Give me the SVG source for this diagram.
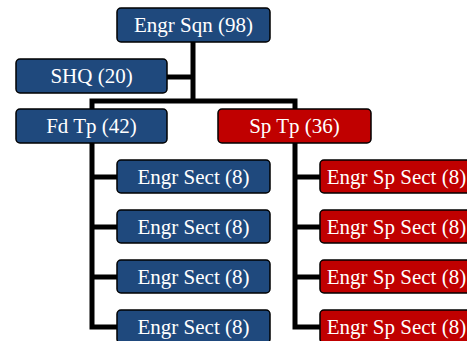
<svg xmlns="http://www.w3.org/2000/svg" width="467" height="341" viewBox="0 0 467 341">
<style>
.blue rect{fill:#1F497D;stroke:#000;stroke-width:1.5}
.red rect{fill:#C00000;stroke:#000;stroke-width:1.5}
text{font-size:21px;fill:#fff;text-anchor:middle}
#connectors path{fill:none;stroke:#000;stroke-width:5;stroke-linejoin:miter}
</style>
<rect width="467" height="341" fill="#fff"/>
<g id="connectors">
<path d="M193,42 V101"/>
<path d="M167,77 H193"/>
<path d="M92,109 V101 H295 V109"/>
<path d="M92,143 V327 H117 M92,177 H117 M92,227 H117 M92,277 H117"/>
<path d="M295,143 V327 H320 M295,177 H320 M295,227 H320 M295,277 H320"/>
</g>
<g font-family="'Liberation Serif', 'Times New Roman', 'DejaVu Serif', serif">
<g id="engr-sqn" class="blue"><rect x="117" y="8" width="153" height="34" rx="4"/><text x="193.5" y="32">Engr Sqn (98)</text></g>
<g id="shq" class="blue"><rect x="16" y="59" width="151" height="34" rx="4"/><text x="91.5" y="83">SHQ (20)</text></g>
<g id="fd-tp" class="blue"><rect x="16" y="109" width="151" height="34" rx="4"/><text x="91.5" y="133">Fd Tp (42)</text></g>
<g id="sp-tp" class="red"><rect x="218" y="109" width="153" height="34" rx="4"/><text x="294.5" y="133">Sp Tp (36)</text></g>
<g id="engr-sect-1" class="blue"><rect x="117" y="160" width="153" height="33" rx="4"/><text x="193.5" y="183.5">Engr Sect (8)</text></g>
<g id="engr-sect-2" class="blue"><rect x="117" y="210" width="153" height="33" rx="4"/><text x="193.5" y="233.5">Engr Sect (8)</text></g>
<g id="engr-sect-3" class="blue"><rect x="117" y="260" width="153" height="33" rx="4"/><text x="193.5" y="283.5">Engr Sect (8)</text></g>
<g id="engr-sect-4" class="blue"><rect x="117" y="310" width="153" height="33" rx="4"/><text x="193.5" y="333.5">Engr Sect (8)</text></g>
<g id="engr-sp-sect-1" class="red"><rect x="320" y="160" width="153" height="33" rx="4"/><text x="396.5" y="183.5">Engr Sp Sect (8)</text></g>
<g id="engr-sp-sect-2" class="red"><rect x="320" y="210" width="153" height="33" rx="4"/><text x="396.5" y="233.5">Engr Sp Sect (8)</text></g>
<g id="engr-sp-sect-3" class="red"><rect x="320" y="260" width="153" height="33" rx="4"/><text x="396.5" y="283.5">Engr Sp Sect (8)</text></g>
<g id="engr-sp-sect-4" class="red"><rect x="320" y="310" width="153" height="33" rx="4"/><text x="396.5" y="333.5">Engr Sp Sect (8)</text></g>
</g>
</svg>
